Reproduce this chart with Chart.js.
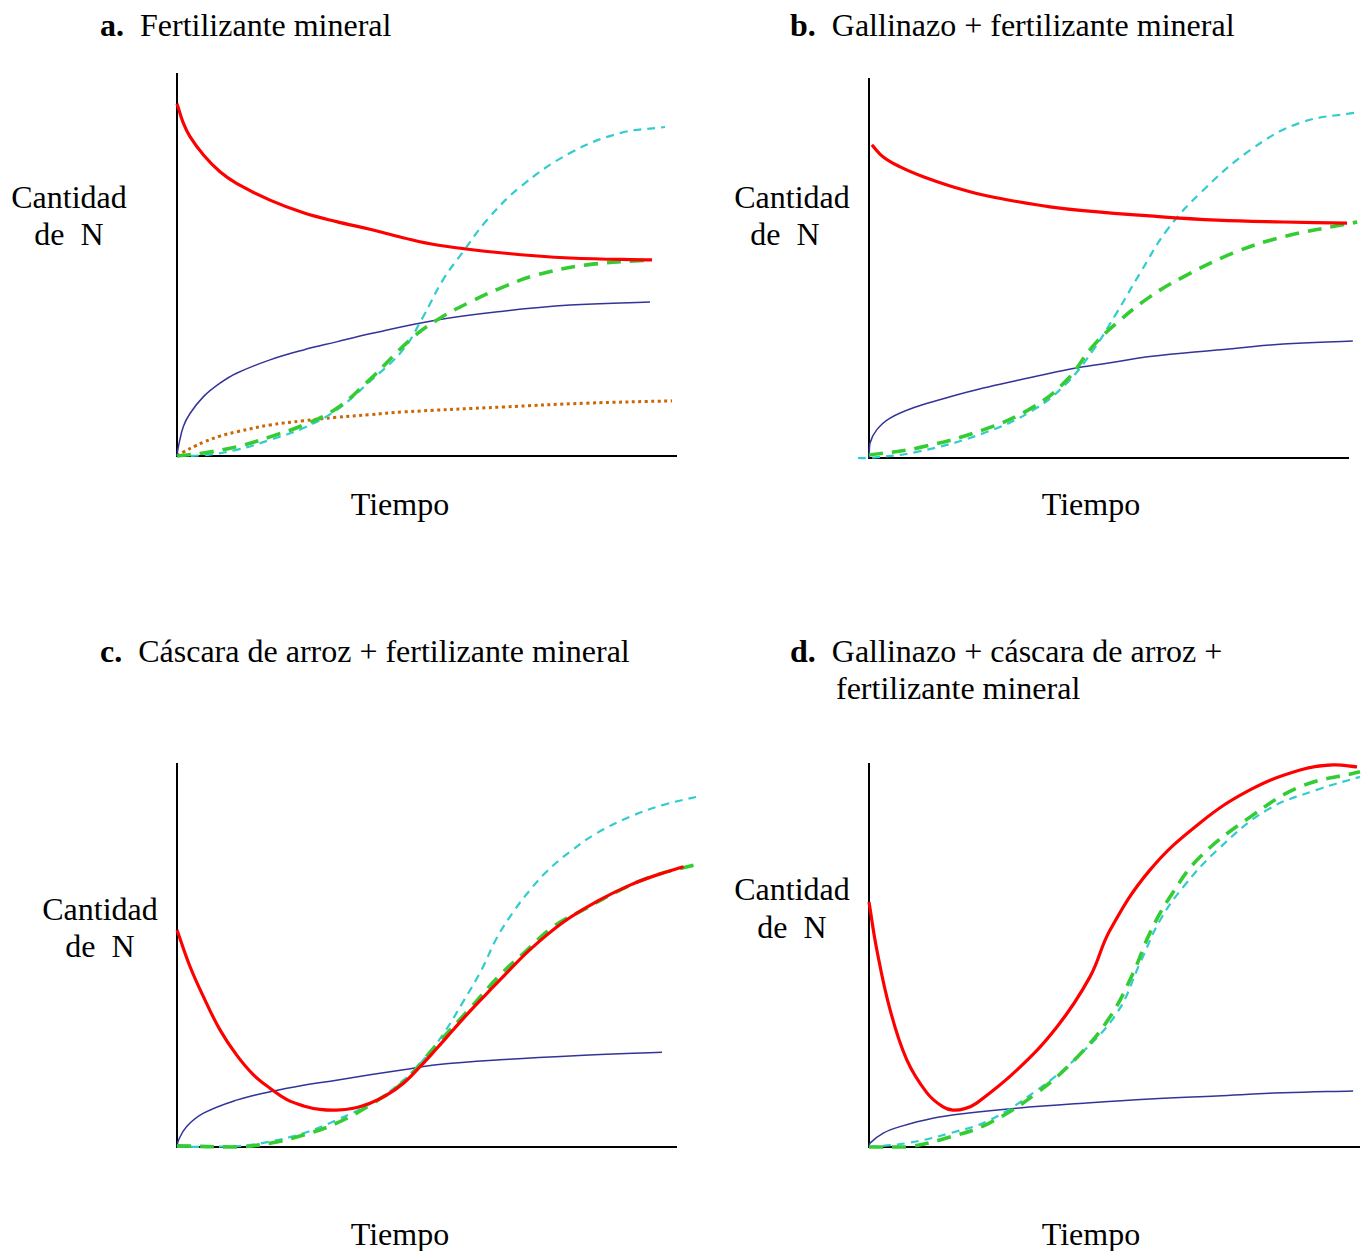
<!DOCTYPE html>
<html>
<head>
<meta charset="utf-8">
<script src="https://cdn.jsdelivr.net/npm/chart.js@4.4.1/dist/chart.umd.min.js"></script>
<style>
  body { margin: 0; width: 1361px; height: 1251px; background: #fff; overflow: hidden; position: relative;
         font-family: "Liberation Serif", "Times New Roman", serif; color: #000; }
  .t { position: absolute; font-size: 32px; white-space: pre; line-height: 1; transform: translateY(-50%); }
  .c { transform: translate(-50%, -50%); text-align: center; }
  canvas { position: absolute; }
</style>
</head>
<body>

<div class="t" style="left:100px;top:25px"><b>a.</b>  Fertilizante mineral</div>
<div class="t" style="left:790px;top:25px"><b>b.</b>  Gallinazo + fertilizante mineral</div>
<div class="t" style="left:100px;top:651px"><b>c.</b>  Cáscara de arroz + fertilizante mineral</div>
<div class="t" style="left:790px;top:651px"><b>d.</b>  Gallinazo + cáscara de arroz +</div>
<div class="t" style="left:836px;top:688px">fertilizante mineral</div>

<div class="t c" style="left:69px;top:197px">Cantidad</div>
<div class="t c" style="left:69px;top:234px">de  N</div>
<div class="t c" style="left:792px;top:197px">Cantidad</div>
<div class="t c" style="left:785px;top:234px">de  N</div>
<div class="t c" style="left:100px;top:909px">Cantidad</div>
<div class="t c" style="left:100px;top:946px">de  N</div>
<div class="t c" style="left:792px;top:889px">Cantidad</div>
<div class="t c" style="left:792px;top:927px">de  N</div>

<div class="t c" style="left:400px;top:504px">Tiempo</div>
<div class="t c" style="left:1091px;top:504px">Tiempo</div>
<div class="t c" style="left:400px;top:1234px">Tiempo</div>
<div class="t c" style="left:1091px;top:1234px">Tiempo</div>

<script>
// a. Fertilizante mineral
const aRedX = [0, 1.27, 2.6, 5.3, 8.6, 11.9, 18.6, 25.3, 31.9, 38.6, 45.2, 52, 65.2, 78.6, 95];
const aRedY = [92, 86.9, 83.4, 78.6, 74.2, 71.2, 66.8, 63.5, 61.2, 59.2, 57, 55.1, 53, 51.7, 51.2];
const aGreenX = [0, 5.3, 11.9, 18.6, 25.3, 31.9, 38.6, 46.6, 52, 58.6, 65.2, 72, 82, 95];
const aGreenY = [0, 0.8, 2.4, 5, 8.1, 12.4, 20, 30.3, 35.5, 40.2, 44.1, 47.3, 49.9, 51.2];
const aCyanX = [0, 5.3, 11.9, 18.6, 25.3, 31.9, 38.6, 45.2, 49.2, 53.2, 57.2, 62, 68.6, 78.6, 88.6, 97.6];
const aCyanY = [0, 0.2, 1.6, 4.2, 7.3, 12, 19.5, 27.7, 36.3, 46, 53.3, 61.6, 70.2, 79.1, 84.3, 85.9];
const aBlueX = [0, 0.27, 1.27, 2.6, 5.3, 8.6, 11.9, 18.6, 25.3, 31.9, 38.6, 52, 65.2, 78.6, 94.6];
const aBlueY = [0, 2.4, 7.7, 11.1, 15.5, 19, 21.6, 25.1, 27.7, 29.8, 31.9, 35.5, 37.8, 39.4, 40.2];
const aOrangeX = [0, 1.5, 3.6, 5.3, 8.6, 11.9, 18.6, 25.3, 31.9, 38.6, 45.2, 65.2, 82, 99];
const aOrangeY = [0, 1.2, 2.6, 3.6, 5.2, 6.3, 8.1, 9.2, 10.1, 10.8, 11.5, 12.8, 13.8, 14.4];

// b. Gallinazo + fertilizante mineral
const bRedX = [0.6, 2.9, 6.5, 11.3, 16.9, 23.8, 30.8, 37.7, 44.6, 58.5, 72.5, 86.3, 99.6];
const bRedY = [82.4, 79.3, 76.6, 74, 71.6, 69.2, 67.5, 66.1, 65.1, 63.7, 62.6, 62.1, 61.8];
const bGreenX = [0, 10, 23.8, 34.2, 41.2, 46.7, 51.6, 58.5, 65.4, 75.8, 86.3, 101.7];
const bGreenY = [0.8, 2.6, 7.4, 13.4, 20.5, 29.5, 35.5, 42.4, 47.6, 53.9, 58.2, 62.1];
const bCyanX = [-2.3, 0, 10, 23.8, 34.2, 41.2, 46.7, 51.6, 56.5, 62.1, 69, 79.4, 89.8, 101.9];
const bCyanY = [0, 0, 1.6, 6.5, 12.6, 19.7, 28.4, 38.2, 48.7, 60, 69.7, 81, 88.2, 91];
const bBlueX = [0, 0.2, 1.6, 4.4, 9.9, 16.9, 23.8, 30.8, 37.7, 44.6, 51.6, 58.5, 72.4, 86.3, 100.8];
const bBlueY = [0, 3.9, 7.4, 10.5, 13.5, 16.1, 18.4, 20.4, 22.3, 24, 25.3, 26.7, 28.4, 30, 30.8];

// c. Cáscara de arroz + fertilizante mineral
const cRedX = [0, 2.6, 5.3, 8.6, 11.9, 15.3, 18.6, 21.9, 25.3, 28.6, 31.9, 35.3, 38.6, 41.9, 45.3, 48.6,
               51.9, 55.3, 58.6, 61.9, 64.6, 70.6, 77.3, 83.9, 90.6, 95.9, 101.3];
const cRedY = [56.5, 47, 39.1, 30.5, 24, 18.8, 15.3, 12.4, 10.7, 9.8, 9.6, 10.1, 11.4, 13.5, 16.6, 20.9,
               25.6, 30.6, 35.4, 39.9, 43.5, 51.4, 58.6, 63.9, 68.2, 70.8, 73];
const cGreenX = [0, 11.9, 18.6, 25.3, 31.9, 38.6, 45.3, 51.9, 58.6, 64.6, 69.3, 75.3, 81.9, 88.6, 95.3, 103.3];
const cGreenY = [0.3, 0, 1, 3.1, 6.2, 10.9, 17, 26.6, 36.1, 44.8, 50.4, 57.4, 62.2, 66.9, 70.6, 73.4];
const cCyanX = [0, 11.9, 18.6, 25.3, 31.9, 39.9, 45.3, 49.3, 53.3, 57.3, 60.9, 63.9, 67.3, 70.6, 73.9,
                78.6, 83.9, 90.6, 97.3, 104.6];
const cCyanY = [0, 0.2, 1.4, 3.6, 7, 12.2, 17.4, 22.7, 29.5, 38, 46.1, 54.3, 61.3, 66.9, 71.7,
                76.9, 81.7, 86, 89.1, 91.4];
const cBlueX = [0, 0.3, 1.9, 5.3, 11.9, 18.6, 25.3, 31.9, 38.6, 45.3, 51.9, 64.6, 81.4, 97];
const cBlueY = [0, 1.8, 5.3, 8.8, 12.2, 14.4, 16.1, 17.4, 18.8, 20.1, 21.4, 22.7, 23.9, 24.7];

// d. Gallinazo + cáscara de arroz + fertilizante mineral
const dRedX = [0, 1.6, 4.3, 7.7, 11.8, 15, 17.1, 19.5, 22, 30.1, 38.3, 45, 49.1, 57.2, 67.4, 77.6, 87.8, 94.5, 99.4];
const dRedY = [63.8, 51.3, 35.7, 22.7, 14.1, 10.5, 9.6, 10, 11.5, 20, 31.3, 44.3, 56.5, 72.1, 84.4, 93, 98.2, 99.5, 99];
const dGreenX = [0, 7.7, 16.5, 24.6, 34.2, 42.4, 49.1, 53.8, 57.2, 61.3, 67.4, 77.6, 87.8, 100];
const dGreenY = [0, 0, 2.6, 6.3, 14.1, 23.4, 33.9, 45.3, 55.7, 65.1, 75.5, 85.9, 93.8, 97.7];
const dCyanX = [0, 7.7, 16.5, 24.6, 34.2, 42.4, 50.5, 55.2, 59.3, 64, 70.9, 81.1, 91.2, 100];
const dCyanY = [0, 1, 3.6, 7, 14.8, 23.4, 34.9, 47.9, 59.1, 67.7, 77.3, 87.8, 93, 96.4];
const dBlueX = [0, 0.2, 2.9, 6.3, 13, 19.9, 30.1, 43.7, 57.2, 70.8, 84.4, 98.6];
const dBlueY = [0, 1, 3.6, 5.3, 7.5, 8.8, 10.1, 11.4, 12.5, 13.3, 14.1, 14.6];

const pts = (xs, ys) => xs.map((x, i) => ({ x: x, y: ys[i] }));

// line styles
const red = (xs, ys) => ({ data: pts(xs, ys), borderColor: '#ff0000', borderWidth: 3.2, order: 0 });
const green = (xs, ys) => ({ data: pts(xs, ys), borderColor: '#33cc33', borderWidth: 3.6, borderDash: [14, 9], order: 1 });
const cyan = (xs, ys) => ({ data: pts(xs, ys), borderColor: '#33cccc', borderWidth: 2.2, borderDash: [8, 6], order: 2 });
const blue = (xs, ys) => ({ data: pts(xs, ys), borderColor: '#333399', borderWidth: 1.5, order: 3 });
const orange = (xs, ys) => ({ data: pts(xs, ys), borderColor: '#cc6600', borderWidth: 3, borderDash: [3, 3.5], order: 4 });

// draw the two axis lines along the plot box
const axesPlugin = {
  id: 'axes',
  beforeDatasetsDraw(chart) {
    const { ctx, chartArea: a } = chart;
    ctx.save();
    ctx.strokeStyle = '#000';
    ctx.lineWidth = 2;
    ctx.beginPath();
    ctx.moveTo(a.left, a.top);
    ctx.lineTo(a.left, a.bottom);
    ctx.lineTo(a.right, a.bottom);
    ctx.stroke();
    ctx.restore();
  }
};

const PAD = 40;
function panel(box, datasets) {
  const cv = document.createElement('canvas');
  const w = box.r - box.l + 2 * PAD, h = box.b - box.t + 2 * PAD;
  cv.width = w; cv.height = h;
  cv.style.left = (box.l - PAD) + 'px';
  cv.style.top = (box.t - PAD) + 'px';
  cv.style.width = w + 'px'; cv.style.height = h + 'px';
  document.body.appendChild(cv);
  datasets.forEach(d => { d.pointRadius = 0; d.clip = false; d.fill = false; d.tension = 0.4; });
  new Chart(cv, {
    type: 'line',
    data: { datasets: datasets },
    options: {
      responsive: false,
      animation: false,
      devicePixelRatio: 1,
      layout: { padding: PAD },
      plugins: { legend: { display: false }, tooltip: { enabled: false } },
      scales: {
        x: { type: 'linear', min: 0, max: 100, display: false },
        y: { min: 0, max: 100, display: false }
      }
    },
    plugins: [axesPlugin]
  });
}

panel({ l: 177, r: 677, t: 73, b: 456 },
  [red(aRedX, aRedY), green(aGreenX, aGreenY), cyan(aCyanX, aCyanY), blue(aBlueX, aBlueY), orange(aOrangeX, aOrangeY)]);
panel({ l: 869, r: 1349, t: 78, b: 458 },
  [red(bRedX, bRedY), green(bGreenX, bGreenY), cyan(bCyanX, bCyanY), blue(bBlueX, bBlueY)]);
panel({ l: 177, r: 677, t: 763, b: 1147 },
  [red(cRedX, cRedY), green(cGreenX, cGreenY), cyan(cCyanX, cCyanY), blue(cBlueX, cBlueY)]);
panel({ l: 869, r: 1360, t: 763, b: 1147 },
  [red(dRedX, dRedY), green(dGreenX, dGreenY), cyan(dCyanX, dCyanY), blue(dBlueX, dBlueY)]);
</script>
</body>
</html>
